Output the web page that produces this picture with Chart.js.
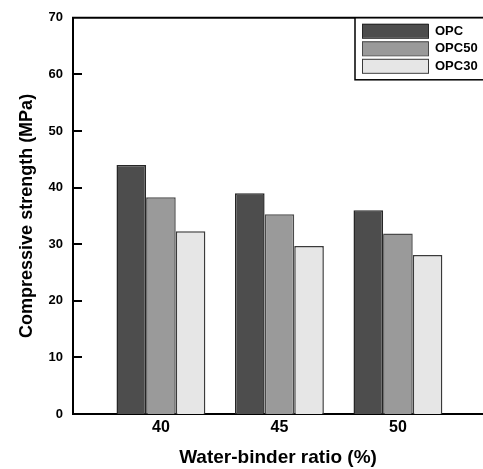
<!DOCTYPE html>
<html>
<head>
<meta charset="utf-8">
<script src="https://cdn.jsdelivr.net/npm/chart.js@4/dist/chart.umd.min.js"></script>
<style>
  body { margin: 0; background: #fff; }
  #wrap { width: 483px; height: 469px; }
</style>
</head>
<body>
<div id="wrap"><canvas id="grafico" width="483" height="469"></canvas></div>
<script>
// valores
const ratios = [40, 45, 50];
const opc = [44.0, 39.0, 36.0];
const opc50 = [38.3, 35.3, 31.9];
const opc30 = [32.3, 29.7, 28.1];
const yTicks = [0, 10, 20, 30, 40, 50, 60, 70];

const fonte = "'Liberation Sans', Arial, sans-serif";

function pontos(valores) {
  return ratios.map((r, i) => ({ x: r, y: valores[i] }));
}

// marcas internas no eixo y + linha de cima
const molduraPlugin = {
  id: 'moldura',
  afterDatasetsDraw(chart) {
    const ctx = chart.ctx;
    const area = chart.chartArea;
    const y = chart.scales.y;
    ctx.save();
    ctx.strokeStyle = '#000';
    ctx.lineWidth = 2;
    y.ticks.forEach(t => {
      if (t.value === 0 || t.value === 70) return;
      const py = Math.round(y.getPixelForValue(t.value));
      ctx.beginPath();
      ctx.moveTo(area.left, py);
      ctx.lineTo(area.left + 9, py);
      ctx.stroke();
    });
    ctx.beginPath();
    ctx.moveTo(area.left - 1, area.top);
    ctx.lineTo(area.right, area.top);
    ctx.stroke();
    ctx.restore();
  }
};

// legenda em caixa no canto superior direito
const legendaPlugin = {
  id: 'legendaCaixa',
  afterDraw(chart) {
    const ctx = chart.ctx;
    const area = chart.chartArea;
    const bx = 355, by = area.top;
    ctx.save();
    ctx.fillStyle = '#fff';
    ctx.fillRect(bx, by, area.right - bx + 2, 62);
    ctx.strokeStyle = '#000';
    ctx.lineWidth = 1.5;
    ctx.strokeRect(bx, by, area.right - bx + 5, 62);
    ctx.font = "bold 13px " + fonte;
    ctx.textBaseline = 'middle';
    chart.data.datasets.forEach((ds, i) => {
      const sy = by + 6 + i * 17.5;
      ctx.fillStyle = ds.backgroundColor;
      ctx.fillRect(362, sy, 66, 14);
      ctx.strokeStyle = ds.borderColor;
      ctx.lineWidth = 1;
      ctx.strokeRect(362.5, sy + 0.5, 66, 14);
      ctx.fillStyle = '#000';
      ctx.fillText(ds.label, 435, sy + 7.5);
    });
    ctx.restore();
  }
};

const ctx = document.getElementById("grafico").getContext("2d");
const grafico = new Chart(ctx, {
  type: 'bar',
  data: {
    datasets: [
      { label: 'OPC', data: pontos(opc), backgroundColor: '#4d4d4d', borderColor: '#262626', borderWidth: 1.5 },
      { label: 'OPC50', data: pontos(opc50), backgroundColor: '#9a9a9a', borderColor: '#4a4a4a', borderWidth: 1.5 },
      { label: 'OPC30', data: pontos(opc30), backgroundColor: '#e6e6e6', borderColor: '#3a3a3a', borderWidth: 1.5 }
    ]
  },
  options: {
    responsive: false,
    animation: false,
    categoryPercentage: 0.75,
    barPercentage: 1.0,
    layout: { padding: { top: 17, right: 0, left: 0, bottom: 0 } },
    plugins: {
      legend: { display: false },
      tooltip: { enabled: false }
    },
    scales: {
      x: {
        type: 'linear',
        offset: false,
        min: 36.29,
        max: 53.59,
        afterBuildTicks: scale => { scale.ticks = ratios.map(v => ({ value: v })); },
        afterFit: scale => { scale.height = 55; },
        grid: { display: false, drawTicks: false, offset: false },
        border: { display: true, color: '#000', width: 2 },
        ticks: { color: '#000', padding: 4, font: { family: fonte, size: 16, weight: 'bold' } },
        title: {
          display: true,
          text: 'Water-binder ratio (%)',
          color: '#000',
          padding: { top: 0, bottom: 0 },
          font: { family: fonte, size: 19, weight: 'bold' }
        }
      },
      y: {
        min: 0,
        max: 70,
        afterBuildTicks: scale => { scale.ticks = yTicks.map(v => ({ value: v })); },
        afterFit: scale => { scale.width = 73; },
        grid: { display: false, drawTicks: false },
        border: { display: true, color: '#000', width: 2 },
        ticks: { color: '#000', padding: 10, font: { family: fonte, size: 13, weight: 'bold' } },
        title: {
          display: true,
          text: 'Compressive strength (MPa)',
          color: '#000',
          padding: { top: 16, bottom: 0 },
          font: { family: fonte, size: 18, weight: 'bold' }
        }
      }
    }
  },
  plugins: [molduraPlugin, legendaPlugin]
});
</script>
</body>
</html>
